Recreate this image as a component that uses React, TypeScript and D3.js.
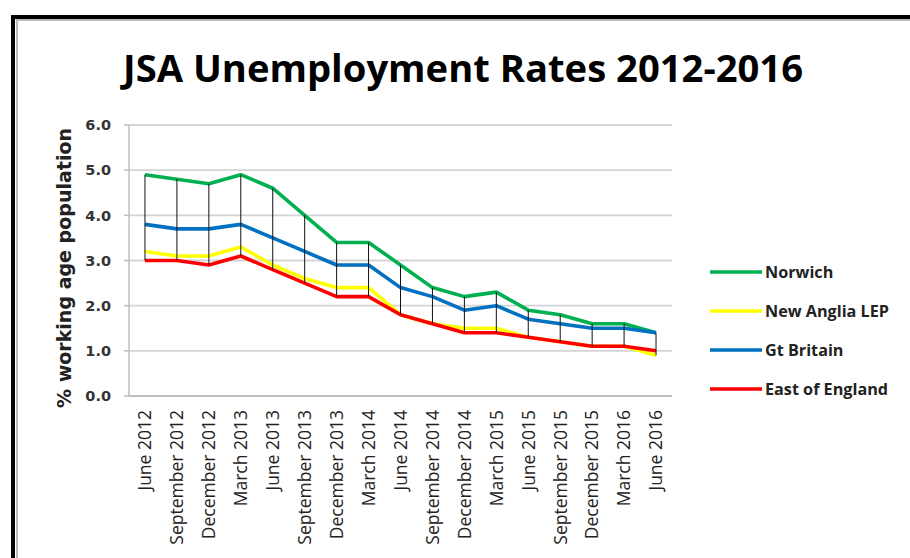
import React from "react";
import * as d3 from "d3";

const categories = [
  "June 2012", "September 2012", "December 2012", "March 2013", "June 2013",
  "September 2013", "December 2013", "March 2014", "June 2014", "September 2014",
  "December 2014", "March 2015", "June 2015", "September 2015", "December 2015",
  "March 2016", "June 2016",
];

const norwich = [4.9, 4.8, 4.7, 4.9, 4.6, 4.0, 3.4, 3.4, 2.9, 2.4, 2.2, 2.3, 1.9, 1.8, 1.6, 1.6, 1.4];
const newAnglia = [3.2, 3.1, 3.1, 3.3, 2.9, 2.6, 2.4, 2.4, 1.8, 1.6, 1.5, 1.5, 1.3, 1.2, 1.1, 1.1, 0.9];
const gtBritain = [3.8, 3.7, 3.7, 3.8, 3.5, 3.2, 2.9, 2.9, 2.4, 2.2, 1.9, 2.0, 1.7, 1.6, 1.5, 1.5, 1.4];
const eastEngland = [3.0, 3.0, 2.9, 3.1, 2.8, 2.5, 2.2, 2.2, 1.8, 1.6, 1.4, 1.4, 1.3, 1.2, 1.1, 1.1, 1.0];

const seriesNames = ["Norwich", "New Anglia LEP", "Gt Britain", "East of England"];
const seriesColors = ["#00B050", "#FFFF00", "#0070C0", "#FF0000"];
const yTicks = [0, 1, 2, 3, 4, 5, 6];

const title = "JSA Unemployment Rates 2012-2016";
const yTitle = "% working age population";

export default function App() {
  const W = 910;
  const H = 558;
  const plotLeft = 129;
  const plotRight = 672;
  const plotTop = 125;
  const plotBottom = 396;

  const x = d3.scalePoint<string>().domain(categories).range([plotLeft, plotRight]).padding(0.5);
  const y = d3.scaleLinear().domain([0, 6]).range([plotBottom, plotTop]);

  const allSeries = [norwich, newAnglia, gtBritain, eastEngland];
  const line = d3
    .line<number>()
    .x((_, i) => x(categories[i]) as number)
    .y((d) => y(d));

  const legendY0 = 272;
  const legendStep = 39;

  return (
    <svg
      width={W}
      height={H}
      style={{ position: "absolute", left: 0, top: 0, display: "block", background: "#fff" }}
    >
      <rect x={0} y={0} width={W} height={H} fill="#fff" />
      {/* frame */}
      <rect x={17} y={20} width={W + 20} height={H + 20} fill="none" stroke="#bbb" strokeWidth={2} />
      <rect x={13} y={17} width={W + 20} height={H + 20} fill="none" stroke="#000" strokeWidth={4} />

      {/* title */}
      <text
        x={463}
        y={82}
        textAnchor="middle"
        fontFamily="'Open Sans', sans-serif"
        fontWeight="bold"
        fontSize={37}
        textLength={680}
        lengthAdjust="spacingAndGlyphs"
        fill="#000"
      >
        {title}
      </text>

      {/* gridlines */}
      {yTicks.map((t) => (
        <line
          key={"g" + t}
          x1={plotLeft}
          x2={plotRight}
          y1={y(t)}
          y2={y(t)}
          stroke={t === 0 ? "#bfbfbf" : "#d4d4d4"}
          strokeWidth={1.8}
        />
      ))}
      {/* y axis */}
      <line x1={plotLeft} x2={plotLeft} y1={plotTop} y2={plotBottom} stroke="#bfbfbf" strokeWidth={1.5} />
      {yTicks.map((t) => (
        <line key={"tk" + t} x1={plotLeft - 5} x2={plotLeft} y1={y(t)} y2={y(t)} stroke="#bfbfbf" strokeWidth={1.5} />
      ))}
      {yTicks.map((t) => (
        <text
          key={"yl" + t}
          x={111}
          y={y(t)}
          dy="0.36em"
          textAnchor="end"
          fontFamily="'DejaVu Sans', sans-serif"
          fontWeight="bold"
          fontSize={14.5}
          fill="#333"
        >
          {t.toFixed(1)}
        </text>
      ))}
      <text
        transform={`translate(64,268) rotate(-90)`}
        dy="0.35em"
        textAnchor="middle"
        fontFamily="'DejaVu Sans', sans-serif"
        fontWeight="bold"
        fontSize={19}
        textLength={280}
        lengthAdjust="spacingAndGlyphs"
        fill="#222"
      >
        {yTitle}
      </text>

      {/* x labels */}
      {categories.map((c) => (
        <text
          key={"xl" + c}
          transform={`translate(${x(c)},410) rotate(-90)`}
          dy="0.36em"
          textAnchor="end"
          fontFamily="'Open Sans', sans-serif"
          fontSize={17.5}
          fill="#222"
        >
          {c}
        </text>
      ))}

      {/* series */}
      {allSeries.map((s, i) => (
        <path
          key={"s" + i}
          d={line(s) || ""}
          fill="none"
          stroke={seriesColors[i]}
          strokeWidth={3.6}
          strokeLinejoin="round"
        />
      ))}

      {/* high-low lines */}
      {categories.map((c, i) => {
        const vals = allSeries.map((s) => s[i]);
        return (
          <line
            key={"hl" + c}
            x1={x(c)}
            x2={x(c)}
            y1={y(d3.max(vals) as number)}
            y2={y(d3.min(vals) as number)}
            stroke="#111"
            strokeWidth={1}
          />
        );
      })}

      {/* legend */}
      {seriesNames.map((n, i) => (
        <g key={"lg" + n}>
          <line
            x1={710}
            x2={762}
            y1={legendY0 + i * legendStep}
            y2={legendY0 + i * legendStep}
            stroke={seriesColors[i]}
            strokeWidth={3.6}
          />
          <text
            x={765}
            y={legendY0 + i * legendStep}
            dy="0.36em"
            fontFamily="'Open Sans', sans-serif"
            fontWeight="bold"
            fontSize={16.2}
            fill="#222"
          >
            {n}
          </text>
        </g>
      ))}
    </svg>
  );
}
